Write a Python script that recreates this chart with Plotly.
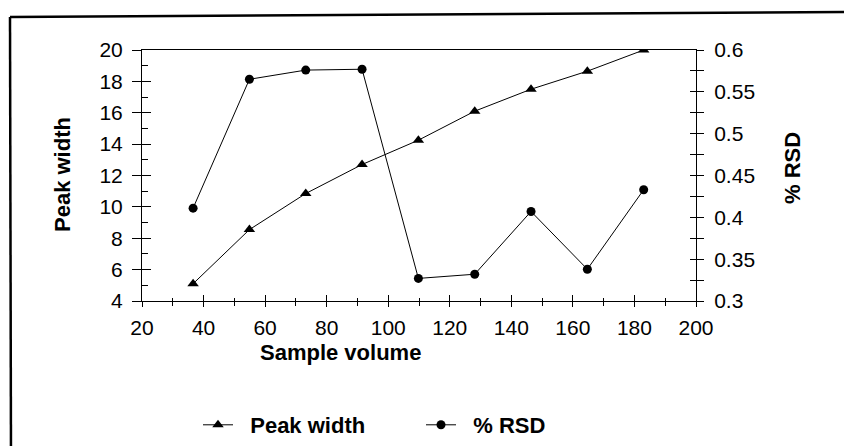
import plotly.graph_objects as go

sample_volume = [36.6, 54.9, 73.2, 91.5, 109.8, 128.1, 146.4, 164.7, 183.0]
peak_width = [5.1, 8.55, 10.85, 12.7, 14.25, 16.1, 17.5, 18.65, 20.0]
rsd = [0.411, 0.565, 0.576, 0.577, 0.327, 0.332, 0.407, 0.338, 0.433]
series_names = ["Peak width", "% RSD"]

x_range = [20, 200]
y_range = [4, 20]
y2_range = [0.3, 0.6]

FONT = "Liberation Sans, Arial, sans-serif"
NB = "\u00a0\u00a0"

W, H = 844, 446

# plot area in pixels (from reference)
L, R, T, B = 142, 696, 50, 301
PW, PH = R - L, B - T


def px(x):
    return (x - L) / PW


def py(y):
    return (B - y) / PH


fig = go.Figure()
fig.add_trace(go.Scatter(
    x=sample_volume, y=peak_width, name=NB + series_names[0], mode="lines+markers",
    line=dict(color="black", width=1),
    marker=dict(symbol="triangle-up", size=10, color="black"),
    xaxis="x", yaxis="y"))
fig.add_trace(go.Scatter(
    x=sample_volume, y=rsd, name=NB + series_names[1], mode="lines+markers",
    line=dict(color="black", width=1),
    marker=dict(symbol="circle", size=9, color="black"),
    xaxis="x", yaxis="y2"))
# empty helper traces so overlay axes (for crossing tick marks) get drawn
fig.add_trace(go.Scatter(x=[], y=[], xaxis="x2", yaxis="y", showlegend=False))
fig.add_trace(go.Scatter(x=[], y=[], xaxis="x", yaxis="y3", showlegend=False))
fig.add_trace(go.Scatter(x=[], y=[], xaxis="x", yaxis="y4", showlegend=False))

tickfont = dict(family=FONT, size=21, color="black")
titlefont = dict(family=FONT, size=22, color="black")

fig.update_layout(
    width=W, height=H,
    margin=dict(l=L, r=W - R, t=T, b=H - B, autoexpand=False),
    paper_bgcolor="white", plot_bgcolor="white",
    font=dict(family=FONT, color="black"),
    showlegend=True,
    legend=dict(orientation="h", x=px(198), xanchor="left", y=py(425), yanchor="middle",
                font=dict(family=FONT, size=22, color="black", weight="bold"),
                itemwidth=30, entrywidth=178, bgcolor="rgba(0,0,0,0)"),
    xaxis=dict(range=x_range, dtick=20, tick0=20, showgrid=False, zeroline=False,
               showline=True, linecolor="black", linewidth=1, mirror=True,
               ticks="outside", ticklen=5, tickcolor="black",
               minor=dict(ticks="outside", ticklen=4, dtick=10, tickcolor="black"),
               tickfont=tickfont, ticklabelstandoff=3),
    xaxis2=dict(range=x_range, overlaying="x", anchor="y", side="bottom",
                showgrid=False, zeroline=False, showticklabels=False,
                ticks="inside", ticklen=6, dtick=20, tick0=20, tickcolor="black",
                minor=dict(ticks="inside", ticklen=3, dtick=10, tickcolor="black")),
    yaxis=dict(range=y_range, dtick=2, tick0=4, showgrid=False, zeroline=False,
               showline=True, linecolor="black", linewidth=1,
               ticks="outside", ticklen=9, tickcolor="black",
               tickfont=tickfont, ticklabelstandoff=5),
    yaxis3=dict(range=y_range, overlaying="y", anchor="x", side="left",
                showgrid=False, zeroline=False, showticklabels=False,
                ticks="inside", ticklen=9, dtick=2, tick0=4, tickcolor="black",
                minor=dict(ticks="inside", ticklen=6, dtick=1, tickcolor="black")),
    yaxis2=dict(range=y2_range, dtick=0.05, tick0=0.3, overlaying="y", side="right",
                anchor="x", showgrid=False, zeroline=False,
                showline=True, linecolor="black", linewidth=1,
                ticks="outside", ticklen=7, tickcolor="black",
                minor=dict(ticks="outside", ticklen=7, dtick=0.025, tickcolor="black"),
                tickfont=tickfont, ticklabelstandoff=6),
    yaxis4=dict(range=y2_range, overlaying="y", anchor="x", side="right",
                showgrid=False, zeroline=False, showticklabels=False,
                ticks="inside", ticklen=6, dtick=0.05, tick0=0.3, tickcolor="black",
                minor=dict(ticks="inside", ticklen=6, dtick=0.025, tickcolor="black")),
)

fig.add_annotation(text="<b>Sample volume</b>", xref="paper", yref="paper",
                   x=px(340), y=py(352), xanchor="center", yanchor="middle",
                   showarrow=False, font=titlefont)
fig.add_annotation(text="<b>Peak width</b>", xref="paper", yref="paper",
                   x=px(62), y=py(175), textangle=-90,
                   xanchor="center", yanchor="middle", showarrow=False, font=titlefont)
fig.add_annotation(text="<b>% RSD</b>", xref="paper", yref="paper",
                   x=px(792), y=py(168), textangle=-90,
                   xanchor="center", yanchor="middle", showarrow=False, font=titlefont)

# outer frame (top and left edges of the scanned chart border)
fig.add_shape(type="line", xref="paper", yref="paper",
              x0=px(10), y0=py(17), x1=px(844), y1=py(12),
              line=dict(color="black", width=2.5))
fig.add_shape(type="line", xref="paper", yref="paper",
              x0=px(10), y0=py(17), x1=px(11), y1=py(460),
              line=dict(color="black", width=2.5))

fig.write_html(
    "out.html",
    config={"displayModeBar": False},
    post_script=("document.documentElement.style.margin='0';"
                 "document.documentElement.style.overflow='hidden';"
                 "document.body.style.margin='0';"
                 "document.body.style.overflow='hidden';"),
)
